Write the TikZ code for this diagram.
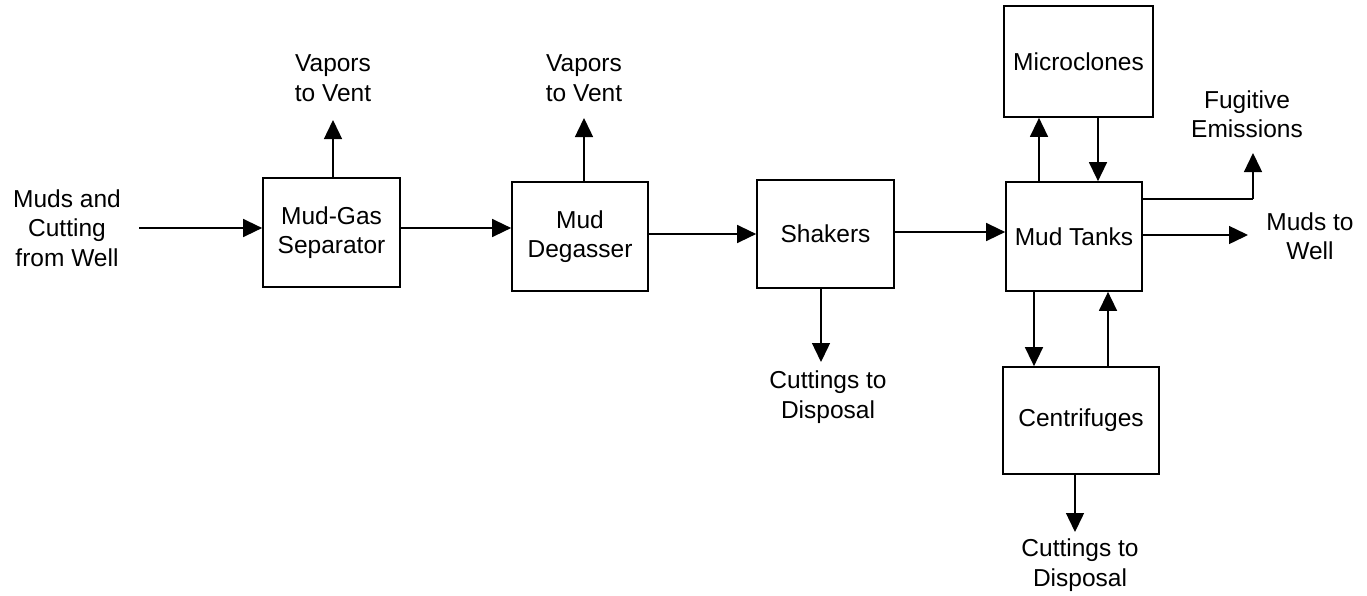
\documentclass[tikz,border=0pt]{standalone}
\usepackage{fontspec}
\setmainfont{Liberation Sans}
\usetikzlibrary{arrows.meta}
\begin{document}
\begin{tikzpicture}[x=1pt,y=-1pt,
  every node/.style={font=\fontsize{24.5}{29.5}\selectfont, align=center, inner sep=0pt},
  box/.style={draw, line width=1.7pt, rectangle},
  arr/.style={line width=1.4pt, -{Triangle[length=19pt,width=18pt]}},
  ln/.style={line width=1.4pt}]
\useasboundingbox (0,0) rectangle (1367,595);
% boxes
\node[box, minimum width=137pt, minimum height=109pt] (mgs) at (331.5,232.5) {Mud-Gas\\Separator};
\node[box, minimum width=136pt, minimum height=109pt] (md) at (580,236.5) {Mud\\Degasser};
\node[box, minimum width=137pt, minimum height=108pt] (sh) at (825.5,234) {Shakers};
\node[box, minimum width=136pt, minimum height=109pt] (mt) at (1074,236.5) {Mud Tanks};
\node[box, minimum width=149pt, minimum height=111pt] (mc) at (1078.5,61.5) {Microclones};
\node[box, minimum width=156pt, minimum height=107pt] (cf) at (1081,420.5) {Centrifuges};
% labels
\node (in) at (67,228) {Muds and\\Cutting\\from Well};
\node (v1) at (333,78) {Vapors\\to Vent};
\node (v2) at (584,78) {Vapors\\to Vent};
\node (c1) at (828,397) {Cuttings to\\Disposal};
\node (c2) at (1080,565) {Cuttings to\\Disposal};
\node (fe) at (1247,114) {Fugitive\\Emissions};
\node (mw) at (1310,236) {Muds to\\Well};
% arrow endpoints
\coordinate (inS) at (139,228);
\coordinate (v1t) at (333,120);
\coordinate (v2t) at (584,118);
\coordinate (c1t) at (821,362);
\coordinate (c2t) at (1075,532);
\coordinate (mwt) at (1248,235);
\coordinate (fec) at (1253,199);
\coordinate (fet) at (1253,153);
% connectors
\draw[arr] (inS) -- ([yshift=4.5pt]mgs.west);
\draw[arr] ([yshift=4.5pt]mgs.east) -- ([yshift=8.5pt]md.west);
\draw[arr] ([yshift=2.5pt]md.east) -- (sh.west);
\draw[arr] ([yshift=2pt]sh.east) -- ([yshift=4.5pt]mt.west);
\draw[arr] ([xshift=1.5pt]mgs.north) -- (v1t);
\draw[arr] ([xshift=4pt]md.north) -- (v2t);
\draw[arr] ([xshift=-4.5pt]sh.south) -- (c1t);
\draw[arr] ([xshift=-6pt]cf.south) -- (c2t);
\draw[arr] ([yshift=1.5pt]mt.east) -- (mwt);
\draw[ln] ([yshift=37.5pt]mt.east) -- (fec);
\draw[arr] (fec) -- (fet);
\draw[arr] ([xshift=-35pt]mt.north) -- ([xshift=-35pt]mt.north |- mc.south);
\draw[arr] ([xshift=24pt]mt.north |- mc.south) -- ([xshift=24pt]mt.north);
\draw[arr] ([xshift=-40pt]mt.south) -- ([xshift=-40pt]mt.south |- cf.north);
\draw[arr] ([xshift=34pt]mt.south |- cf.north) -- ([xshift=34pt]mt.south);
\end{tikzpicture}
\end{document}
